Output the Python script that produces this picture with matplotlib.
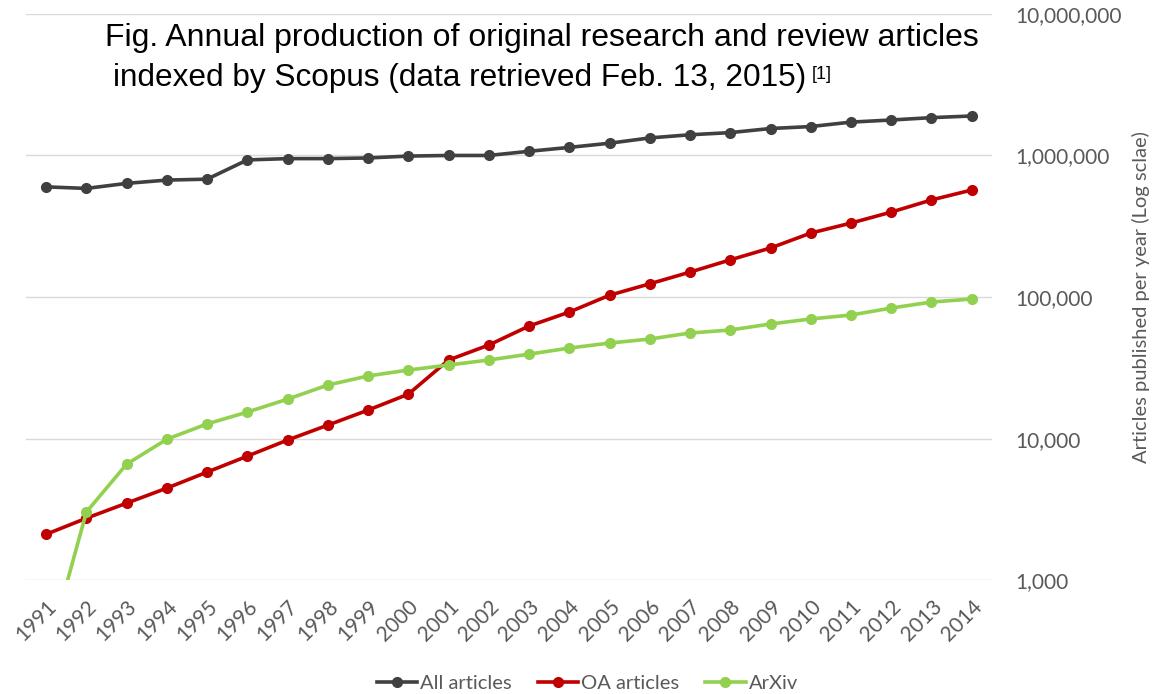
import matplotlib.pyplot as plt
import numpy as np

years = list(range(1991, 2015))

all_articles = [600000, 585000, 635000, 670000, 680000, 930000, 950000, 950000,
                960000, 990000, 1000000, 1000000, 1070000, 1140000, 1220000, 1330000,
                1400000, 1450000, 1550000, 1600000, 1720000, 1780000, 1850000, 1900000]
oa_articles = [2110, 2740, 3500, 4470, 5800, 7520, 9770, 12450, 15900, 20600,
               35900, 45800, 62400, 78300, 103000, 124000, 150000, 183000, 222000,
               283000, 333000, 398000, 485000, 570000]
arxiv = [280, 3030, 6600, 9900, 12700, 15400, 19000, 23900, 27700, 30500,
         33100, 35900, 39500, 43600, 47300, 50500, 55700, 58500, 64500, 70000,
         74600, 83600, 92200, 96800]

y_ticks = [1000, 10000, 100000, 1000000, 10000000]
y_labels = ["1,000", "10,000", "100,000", "1,000,000", "10,000,000"]

plt.rcParams['font.family'] = ['Lato', 'DejaVu Sans']

fig = plt.figure(figsize=(11.56, 6.94), dpi=100)
ax = fig.add_axes([0.0225, 0.164, 0.8355, 0.816])

ax.plot(years, all_articles, '-o', color='#404040', lw=2.6, ms=7, label='All articles')
ax.plot(years, oa_articles, '-o', color='#C00000', lw=2.6, ms=7, label='OA articles')
ax.plot(years, arxiv, '-o', color='#92D050', lw=2.6, ms=7, label='ArXiv')

ax.set_yscale('log')
ax.set_ylim(1000, 10000000)
ax.set_xlim(1990.5, 2014.5)
ax.set_yticks(y_ticks)
ax.set_yticklabels(y_labels)
ax.minorticks_off()
ax.yaxis.tick_right()
ax.yaxis.set_label_position('right')
ax.set_xticks(years)
ax.set_xticklabels([str(y) for y in years], rotation=45, ha='right', rotation_mode='anchor')
ax.tick_params(axis='both', length=0, colors='#595959', labelsize=15)
ax.tick_params(axis='y', pad=17)
ax.tick_params(axis='x', pad=12)
ax.grid(True, axis='y', color='#d9d9d9', lw=1)
ax.set_axisbelow(True)
for s in ax.spines.values():
    s.set_visible(False)

ax.set_ylabel('Articles published per year (Log sclae)', color='#595959', fontsize=14.5, labelpad=7)

ax.legend(loc='upper center', bbox_to_anchor=(0.581, -0.135), ncol=3, frameon=False,
          fontsize=14.5, labelcolor='#595959', handlelength=2, handletextpad=0.15,
          columnspacing=1.3)

fig.text(105 / 1156, 1 - 46 / 694, 'Fig. Annual production of original research and review articles',
         family='Liberation Sans', fontsize=23, color='black', va='baseline')
fig.text(113 / 1156, 1 - 86 / 694, 'indexed by Scopus (data retrieved Feb. 13, 2015)',
         family='Liberation Sans', fontsize=22.7, color='black', va='baseline')
fig.text(812 / 1156, 1 - 79 / 694, '[1]',
         family='Liberation Sans', fontsize=13, color='black', va='baseline')

fig.savefig('out.png', dpi=100)
